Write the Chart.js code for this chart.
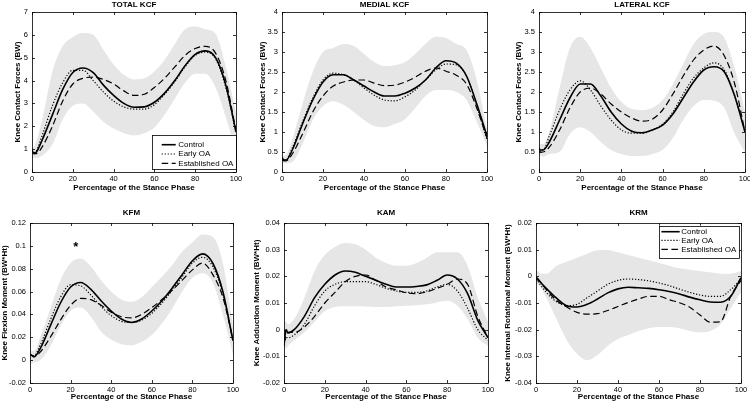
<!DOCTYPE html>
<html><head><meta charset="utf-8">
<script src="https://cdn.jsdelivr.net/npm/chart.js@4.4.1/dist/chart.umd.min.js"></script>
<style>
html,body{margin:0;padding:0;background:#fff;overflow:hidden;}
#wrap{position:relative;width:750px;height:404px;overflow:hidden;background:#fff;}
canvas{position:absolute;}
</style></head><body><div id="wrap"></div>
<script>
// ---------- data ----------
const X = [0,1,2,5,10,15,20,25,30,35,40,45,50,55,60,65,70,75,80,85,90,95,100];
const SERIES_LABELS = ['Control','Early OA','Established OA'];
const X_TICKS = [0,20,40,60,80,100];

const totalControl     = [0.95,0.8,0.85,1.4,2.5,3.6,4.35,4.55,4.35,3.8,3.35,3.0,2.83,2.85,3.05,3.45,4.0,4.65,5.15,5.3,5.0,3.8,1.75];
const totalEarly       = [0.95,0.85,0.9,1.6,2.9,3.9,4.45,4.45,4.0,3.5,3.1,2.85,2.75,2.75,2.95,3.4,3.95,4.6,5.1,5.25,4.95,3.7,1.75];
const totalEstablished = [0.9,0.8,0.8,1.1,2.0,3.1,3.85,4.1,4.15,4.05,3.85,3.55,3.35,3.4,3.7,4.1,4.6,5.1,5.4,5.5,5.2,4.0,1.8];
const totalUpper       = [1.05,1.1,1.3,2.3,4.4,5.5,5.9,6.08,6.0,5.35,4.7,4.25,4.05,4.1,4.4,4.9,5.6,6.25,6.37,6.25,6.05,4.6,2.6];
const totalLower       = [0.65,0.62,0.6,0.72,1.2,2.3,2.9,3.0,2.65,2.2,1.9,1.7,1.6,1.7,1.95,2.5,3.2,3.9,4.3,4.3,3.7,2.4,0.9];
const TOTAL_TICKS = [0,1,2,3,4,5,6,7];

const medialControl     = [0.35,0.3,0.3,0.55,1.2,1.8,2.25,2.43,2.43,2.3,2.15,2.0,1.9,1.9,1.97,2.1,2.3,2.6,2.78,2.72,2.4,1.7,0.9];
const medialEarly       = [0.35,0.3,0.3,0.6,1.25,1.85,2.3,2.47,2.43,2.3,2.1,1.92,1.8,1.78,1.88,2.05,2.3,2.55,2.7,2.68,2.4,1.65,0.8];
const medialEstablished = [0.3,0.28,0.28,0.45,0.95,1.5,1.9,2.15,2.25,2.3,2.3,2.22,2.16,2.17,2.25,2.37,2.52,2.6,2.52,2.42,2.2,1.6,0.85];
const medialUpper       = [0.4,0.4,0.42,0.8,1.7,2.5,3.0,3.1,3.2,3.15,2.95,2.75,2.65,2.67,2.75,2.95,3.2,3.38,3.35,3.2,3.05,2.3,1.05];
const medialLower       = [0.22,0.22,0.22,0.25,0.7,1.3,1.65,1.77,1.68,1.5,1.3,1.15,1.12,1.2,1.32,1.6,1.9,2.05,2.05,2.0,1.8,1.25,0.65];
const KCF_TICKS = [0,0.5,1,1.5,2,2.5,3,3.5,4];

const lateralControl     = [0.58,0.55,0.55,0.75,1.3,1.85,2.2,2.2,1.9,1.5,1.2,1.02,0.98,1.05,1.17,1.45,1.85,2.25,2.55,2.63,2.5,1.9,1.0];
const lateralEarly       = [0.55,0.55,0.55,0.9,1.55,2.05,2.28,2.05,1.65,1.3,1.05,0.97,0.97,1.05,1.2,1.5,1.95,2.35,2.6,2.73,2.55,1.9,1.0];
const lateralEstablished = [0.52,0.5,0.5,0.62,1.05,1.6,2.0,2.1,1.95,1.7,1.5,1.35,1.27,1.32,1.55,1.95,2.4,2.8,3.05,3.15,2.9,2.2,1.0];
const lateralUpper       = [0.7,0.7,0.7,1.0,2.1,3.1,3.38,3.1,2.6,2.1,1.75,1.58,1.55,1.6,1.8,2.2,2.7,3.2,3.45,3.5,3.35,2.6,1.5];
const lateralLower       = [0.4,0.4,0.38,0.45,0.5,0.95,1.12,1.0,0.75,0.55,0.45,0.4,0.4,0.45,0.55,0.85,1.3,1.65,1.8,1.78,1.6,0.95,0.5];

const kfmControl     = [0.005,0.004,0.003,0.01,0.03,0.05,0.064,0.068,0.062,0.052,0.043,0.036,0.033,0.036,0.043,0.052,0.063,0.075,0.087,0.093,0.085,0.06,0.017];
const kfmEarly       = [0.005,0.004,0.004,0.013,0.035,0.055,0.066,0.065,0.057,0.047,0.039,0.034,0.033,0.035,0.041,0.05,0.061,0.073,0.085,0.09,0.082,0.058,0.017];
const kfmEstablished = [0.005,0.004,0.003,0.007,0.02,0.035,0.048,0.054,0.053,0.048,0.042,0.038,0.037,0.04,0.046,0.053,0.061,0.07,0.079,0.085,0.075,0.055,0.018];
const kfmUpper       = [0.008,0.008,0.008,0.02,0.045,0.07,0.085,0.089,0.082,0.07,0.06,0.053,0.051,0.055,0.064,0.073,0.083,0.095,0.103,0.11,0.108,0.085,0.03];
const kfmLower       = [-0.003,-0.003,-0.002,0.0,0.012,0.03,0.043,0.046,0.038,0.025,0.018,0.014,0.013,0.016,0.022,0.032,0.045,0.06,0.072,0.076,0.068,0.04,0.005];
const KFM_TICKS = [-0.02,0,0.02,0.04,0.06,0.08,0.1,0.12];
const KFM_MARK = {x:22.5, y:0.1, text:'*'};

const kamControl     = [-0.006,0.0,-0.0012,0.0,0.005,0.012,0.017,0.0205,0.022,0.0215,0.02,0.0185,0.017,0.016,0.016,0.0162,0.0168,0.0185,0.0205,0.019,0.0135,0.0035,-0.003];
const kamEarly       = [-0.005,-0.003,-0.003,-0.002,0.002,0.009,0.0145,0.017,0.018,0.018,0.018,0.017,0.0155,0.0145,0.014,0.014,0.0145,0.016,0.017,0.0145,0.008,0.0,-0.004];
const kamEstablished = [-0.005,-0.002,-0.001,-0.001,0.001,0.005,0.01,0.014,0.018,0.02,0.0205,0.0185,0.016,0.015,0.0138,0.0135,0.0142,0.0155,0.017,0.019,0.017,0.005,-0.003];
const kamUpper       = [0.003,0.003,0.002,0.004,0.012,0.022,0.028,0.031,0.0325,0.032,0.03,0.027,0.025,0.024,0.024,0.025,0.027,0.029,0.029,0.029,0.024,0.012,0.003];
const kamLower       = [-0.007,-0.007,-0.006,-0.004,-0.001,0.003,0.007,0.0085,0.0088,0.0088,0.0087,0.0085,0.0085,0.0088,0.009,0.0092,0.0095,0.0102,0.0108,0.009,0.004,-0.003,-0.006];
const KAM_TICKS = [-0.02,-0.01,0,0.01,0.02,0.03,0.04];

const krmControl     = [-0.0005,-0.001,-0.002,-0.0045,-0.0082,-0.011,-0.0115,-0.0105,-0.0085,-0.0062,-0.0047,-0.0041,-0.0043,-0.0045,-0.005,-0.0057,-0.0066,-0.0078,-0.0088,-0.0096,-0.0097,-0.0075,-0.0005];
const krmEarly       = [-0.001,-0.002,-0.003,-0.006,-0.0095,-0.011,-0.0105,-0.008,-0.0055,-0.003,-0.0015,-0.001,-0.0012,-0.0017,-0.0025,-0.0035,-0.0048,-0.006,-0.007,-0.0075,-0.0075,-0.005,-0.001];
const krmEstablished = [-0.001,-0.0015,-0.002,-0.005,-0.009,-0.0115,-0.0135,-0.0142,-0.014,-0.0128,-0.0113,-0.0098,-0.0085,-0.0075,-0.0075,-0.0088,-0.0099,-0.0116,-0.0145,-0.0172,-0.017,-0.0075,-0.0015];
const krmUpper       = [0.002,0.002,0.001,0.001,0.004,0.0055,0.007,0.0085,0.0098,0.0099,0.009,0.008,0.007,0.006,0.005,0.004,0.003,0.0025,0.002,0.0015,0.001,0.001,0.002];
const krmLower       = [-0.003,-0.003,-0.004,-0.008,-0.016,-0.024,-0.029,-0.0315,-0.0295,-0.026,-0.0235,-0.022,-0.0205,-0.0195,-0.019,-0.019,-0.0195,-0.0205,-0.021,-0.0205,-0.018,-0.012,-0.006];
const KRM_TICKS = [-0.04,-0.03,-0.02,-0.01,0,0.01,0.02];

// ---------- layout / style ----------
const FONT = "'Liberation Sans', Arial, Helvetica, sans-serif";
const X_TITLE = 'Percentage of the Stance Phase';
const LINE_STYLES = [
  {borderWidth:1.6, borderDash:[]},
  {borderWidth:1.2, borderDash:[1.2,1.8]},
  {borderWidth:1.2, borderDash:[6.5,3.5]}
];
const BAND_COLOR = '#e6e6e6';

const panels = [
  {title:'TOTAL KCF', yTitle:'Knee Contact Forces (BW)', s:[totalControl,totalEarly,totalEstablished], band:[totalUpper,totalLower], yt:TOTAL_TICKS,
   cv:{l:13,t:0,w:245,h:200}, pl:{l:32,r:236,t:12,b:172}, tp:[0,2.4], xp:7.2,
   legend:{dx:-83.7, dy:-37.3, anchor:'br', w:83.7, h:34.3, rows:[10,19.3,28.7], l0:9.4, l1:23.4, tx:26}},
  {title:'MEDIAL KCF', yTitle:'Knee Contact Forces (BW)', s:[medialControl,medialEarly,medialEstablished], band:[medialUpper,medialLower], yt:KCF_TICKS,
   cv:{l:258,t:0,w:245,h:200}, pl:{l:282,r:487,t:12,b:172}, tp:[0,2.4], xp:7.2},
  {title:'LATERAL KCF', yTitle:'Knee Contact Forces (BW)', s:[lateralControl,lateralEarly,lateralEstablished], band:[lateralUpper,lateralLower], yt:KCF_TICKS,
   cv:{l:514,t:0,w:250,h:200}, pl:{l:539,r:745,t:12,b:172}, tp:[0,2.4], xp:7.2},
  {title:'KFM', yTitle:'Knee Flexion Moment (BW*Ht)', s:[kfmControl,kfmEarly,kfmEstablished], band:[kfmUpper,kfmLower], yt:KFM_TICKS,
   cv:{l:0,t:200,w:245,h:204}, pl:{l:30,r:233,t:223,b:383}, tp:[8.2,5.2], xp:2.2, mark:KFM_MARK},
  {title:'KAM', yTitle:'Knee Adduction Moment (BW*Ht)', s:[kamControl,kamEarly,kamEstablished], band:[kamUpper,kamLower], yt:KAM_TICKS,
   cv:{l:252,t:200,w:248,h:204}, pl:{l:284,r:488,t:223,b:383}, tp:[8.2,5.2], xp:2.2},
  {title:'KRM', yTitle:'Knee Internal Rotational Moment (BW*Ht)', s:[krmControl,krmEarly,krmEstablished], band:[krmUpper,krmLower], yt:KRM_TICKS,
   cv:{l:503,t:200,w:257,h:204}, pl:{l:536,r:741,t:223,b:383}, tp:[8.2,5.2], xp:2.2,
   legend:{dx:-82.3, dy:2.7, anchor:'tr', w:80.3, h:31.6, rows:[6,14.6,23.6], l0:2.7, l1:21, tx:22.5}}
];

const boxPlugin = {
  id:'boxTicks',
  afterDatasetsDraw(chart, args, opts) {
    const ctx = chart.ctx, a = chart.chartArea, xs = chart.scales.x, ys = chart.scales.y;
    ctx.save();
    ctx.strokeStyle = '#000';
    ctx.lineWidth = 0.8;
    ctx.setLineDash([]);
    ctx.strokeRect(Math.round(a.left)+0.5, Math.round(a.top)+0.5, Math.round(a.right-a.left), Math.round(a.bottom-a.top));
    const L = 3;
    ctx.beginPath();
    xs.ticks.forEach(t => {
      const px = Math.round(xs.getPixelForValue(t.value))+0.5;
      ctx.moveTo(px, a.bottom); ctx.lineTo(px, a.bottom-L);
      ctx.moveTo(px, a.top); ctx.lineTo(px, a.top+L);
    });
    ys.ticks.forEach(t => {
      const py = Math.round(ys.getPixelForValue(t.value))+0.5;
      ctx.moveTo(a.left, py); ctx.lineTo(a.left+L, py);
      ctx.moveTo(a.right, py); ctx.lineTo(a.right-L, py);
    });
    ctx.stroke();
    const p = opts.panel;
    if (p.mark) {
      ctx.fillStyle = '#000';
      ctx.font = 'bold 13px ' + FONT;
      ctx.textAlign = 'center';
      ctx.textBaseline = 'middle';
      ctx.fillText(p.mark.text, xs.getPixelForValue(p.mark.x), ys.getPixelForValue(p.mark.y)+2);
    }
    if (p.legend) {
      const lg = p.legend;
      const bx = a.right + lg.dx;
      const by = lg.anchor === 'br' ? a.bottom + lg.dy : a.top + lg.dy;
      ctx.fillStyle = '#fff';
      ctx.fillRect(bx, by, lg.w, lg.h);
      ctx.strokeStyle = '#000';
      ctx.lineWidth = 0.8;
      ctx.strokeRect(Math.round(bx)+0.5, Math.round(by)+0.5, Math.round(lg.w), Math.round(lg.h));
      ctx.font = '8px ' + FONT;
      ctx.textAlign = 'left';
      ctx.textBaseline = 'middle';
      for (let i = 0; i < 3; i++) {
        const ds = chart.data.datasets[i];
        const yy = by + lg.rows[i];
        ctx.beginPath();
        ctx.lineWidth = ds.borderWidth;
        ctx.setLineDash(ds.borderDash || []);
        ctx.strokeStyle = '#000';
        ctx.moveTo(bx + lg.l0, yy); ctx.lineTo(bx + lg.l1, yy);
        ctx.stroke();
        ctx.setLineDash([]);
        ctx.fillStyle = '#000';
        ctx.fillText(ds.label, bx + lg.tx, yy);
      }
    }
    ctx.restore();
  }
};

const wrap = document.getElementById('wrap');
panels.forEach(p => {
  const c = document.createElement('canvas');
  c.width = p.cv.w; c.height = p.cv.h;
  c.style.left = p.cv.l + 'px'; c.style.top = p.cv.t + 'px';
  c.style.width = p.cv.w + 'px'; c.style.height = p.cv.h + 'px';
  wrap.appendChild(c);
  const mk = arr => X.map((x,i) => ({x:x, y:arr[i]}));
  const datasets = p.s.map((arr,i) => Object.assign({
    label: SERIES_LABELS[i], data: mk(arr), borderColor:'#000', backgroundColor:'#000',
    pointRadius:0, fill:false, cubicInterpolationMode:'monotone', order:1
  }, LINE_STYLES[i]));
  datasets.push({label:'Upper', data:mk(p.band[0]), borderWidth:0, borderColor:'rgba(0,0,0,0)', pointRadius:0, fill:false, cubicInterpolationMode:'monotone', order:2});
  datasets.push({label:'Lower', data:mk(p.band[1]), borderWidth:0, borderColor:'rgba(0,0,0,0)', backgroundColor:BAND_COLOR, pointRadius:0, fill:'-1', cubicInterpolationMode:'monotone', order:3});
  const yW = p.pl.l - p.cv.l;
  const xH = p.cv.t + p.cv.h - p.pl.b;
  const padR = p.cv.l + p.cv.w - p.pl.r;
  new Chart(c, {
    type:'line',
    data:{datasets},
    plugins:[boxPlugin],
    options:{
      responsive:false, animation:false, devicePixelRatio:1,
      layout:{padding:{left:0, top:0, right:padR, bottom:0}},
      plugins:{
        legend:{display:false}, tooltip:{enabled:false},
        title:{display:true, text:p.title, fullSize:false, color:'#000',
          font:{family:FONT, size:8, weight:'bold', lineHeight:1.2}, padding:{top:p.tp[0], bottom:p.tp[1]}},
        boxTicks:{panel:p}
      },
      scales:{
        x:{type:'linear', min:0, max:100, offset:false,
          grid:{display:false, drawTicks:false}, border:{display:false},
          ticks:{font:{family:FONT, size:7.5}, color:'#000', padding:2, maxRotation:0, autoSkip:false},
          afterBuildTicks: s => { s.ticks = X_TICKS.map(v => ({value:v})); },
          afterFit: s => { s.height = xH; },
          title:{display:true, text:X_TITLE, color:'#000', font:{family:FONT, size:8, weight:'bold', lineHeight:1.2}, padding:{top:0, bottom:p.xp}}
        },
        y:{type:'linear', min:p.yt[0], max:p.yt[p.yt.length-1],
          grid:{display:false, drawTicks:false}, border:{display:false},
          ticks:{font:{family:FONT, size:7.5}, color:'#000', padding:4, autoSkip:false, callback: v => String(v)},
          afterBuildTicks: s => { s.ticks = p.yt.map(v => ({value:v})); },
          afterFit: s => { s.width = yW; },
          title:{display:true, text:p.yTitle, color:'#000', font:{family:FONT, size:8, weight:'bold', lineHeight:1.2}, padding:{top:0, bottom:0}}
        }
      }
    }
  });
});
</script></body></html>
